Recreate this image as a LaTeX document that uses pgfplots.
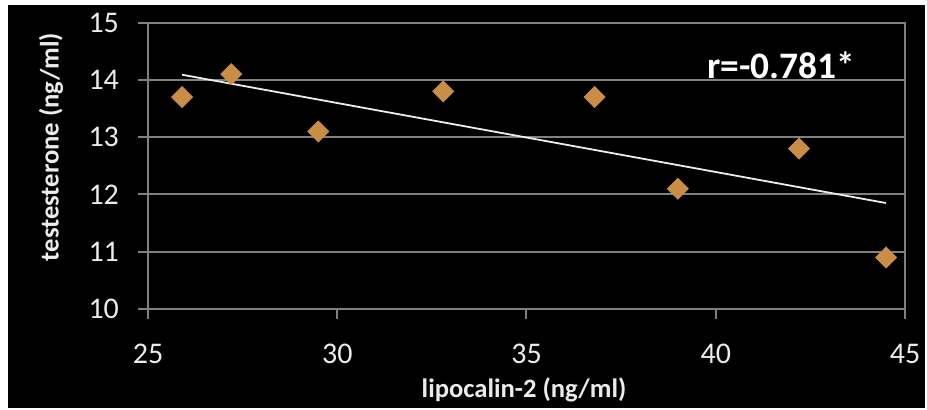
\documentclass[border=0pt]{standalone}
\usepackage{pgfplots}
\pgfplotsset{compat=1.18}
\usepackage{fontspec}
\setmainfont{Carlito}
\definecolor{markertan}{RGB}{201,141,71}
\definecolor{gridgray}{RGB}{128,128,128}
\definecolor{labelgray}{RGB}{235,235,235}
\begin{document}
\begin{tikzpicture}
% page frame and black chart area (1px = 0.5pt, plot area origin at lower-left)
\fill[white] (-74pt,-50pt) rectangle (389.5pt,154.5pt);
\fill[black] (-70pt,-49.5pt) rectangle (388.5pt,152pt);
\useasboundingbox (-74pt,-50pt) rectangle (389.5pt,154.5pt);
\begin{axis}[
  at={(0,0)}, anchor=south west,
  scale only axis,
  width=378.5pt, height=143.2pt,
  xmin=25, xmax=45, ymin=10, ymax=15,
  xtick={25,30,35,40,45},
  ytick={10,11,12,13,14,15},
  ymajorgrids,
  grid style={gridgray, line width=1pt},
  axis line style={gridgray, line width=1pt},
  tick style={gridgray, line width=1pt},
  tick align=outside,
  major tick length=5pt,
  xtick pos=bottom, ytick pos=left,
  /pgf/number format/assume math mode=true,
  tick label style={font=\fontsize{15}{17}\selectfont, text=labelgray},
  xticklabel style={yshift=-9pt},
  yticklabel style={xshift=-6pt},
  clip=false,
]
\addplot[only marks, mark=square*, mark size=3.7pt,
  mark options={rotate=45, fill=markertan, draw=markertan}]
  coordinates {
    (25.9,13.7) (27.2,14.1) (29.5,13.1) (32.8,13.8)
    (36.8,13.7) (39.0,12.1) (42.2,12.8) (44.5,10.9)
  };
% least-squares trend line through the eight points
\addplot[white!85!gray, line width=0.9pt]
  coordinates {(25.9,14.09) (44.5,11.85)};
\end{axis}
\node[text=labelgray, font=\bfseries\fontsize{13.3}{15}\selectfont] at (188pt,-40.5pt) {lipocalin-2 (ng/ml)};
\node[text=labelgray, font=\bfseries\fontsize{13.3}{15}\selectfont, rotate=90] at (-48.5pt,81pt) {testesterone (ng/ml)};
\node[text=white, font=\bfseries\fontsize{18.7}{21}\selectfont] at (316.5pt,122pt) {r=-0.781*};
\end{tikzpicture}
\end{document}
